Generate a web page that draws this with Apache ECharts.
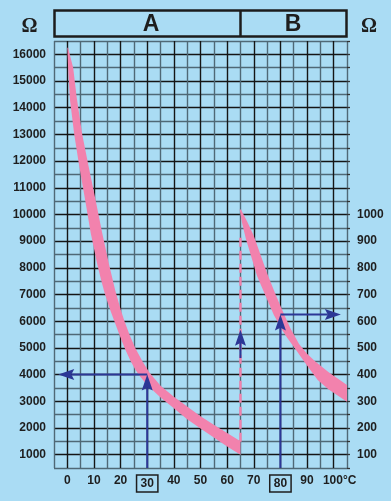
<!DOCTYPE html>
<html><head><meta charset="utf-8">
<script src="https://cdn.jsdelivr.net/npm/echarts@6/dist/echarts.min.js"></script>
<style>html,body{margin:0;padding:0;background:#aadcf4;}#c{width:391px;height:501px;}</style>
</head><body><div id="c"></div><script>
// ---- data ----
const tempTicks = [0,10,20,30,40,50,60,70,80,90,100];
const boxedTemps = [30,80];
const leftTicks = [1000,2000,3000,4000,5000,6000,7000,8000,9000,10000,11000,12000,13000,14000,15000,16000];
const rightTicks = [100,200,300,400,500,600,700,800,900,1000];
const headerLabels = ['A','B'];
const unitLabel = 'Ω';
// curve A band (left scale, Ω)
const aLowerX = [0,0.3,1.0,2.6,4.5,6.6,8.8,11.2,12.6,14.0,15.9,17.8,19.6,21.5,23.7,25.5,27.1,30,35,40,45,50,55,60,65];
const aLowerY = [16250,15500,14300,13000,11800,10600,9300,8150,7580,7060,6480,5960,5480,5000,4520,4190,3960,3610,3140,2740,2330,1980,1640,1310,1000];
const aUpperX = [0.3,0.9,2.2,3.5,5.6,8.0,10.5,13.0,15.6,18.0,20.0,21.5,23.4,25.5,28.3,30.8,35,40,45,50,55,60,65];
const aUpperY = [16250,16000,15500,14400,13000,11800,10600,9350,8150,7150,6450,5990,5480,5000,4480,4080,3580,3170,2800,2440,2120,1810,1500];
// curve B band (right scale, Ω)
const bLowerX = [64.7,65.6,67,69.4,71.2,74,77.5,80.6,82.4,86,89.3,94,98,105];
const bLowerY = [1019,969,910,830,770,705,624,568,540,490,443,380,345,298];
const bUpperX = [65.2,67.6,70,72.5,75,78,81.2,83.7,87,90,93,98,105];
const bUpperY = [1019,972,920,850,780,705,630,575,515,478,450,410,361];
// dashed transition line (left scale)
const dashX = [65,65];
const dashY = [1480,9190];
// arrows [x1,y1,x2,y2]
const arrowsA = [[30,500,30,4000],[30,4000,-3.4,4000]];
const arrowsB = [[80,50,80,625],[80,625,102.7,625],[65,462,65,568]];

const PINK = '#f282ad', NAVY = '#2c3796', TXT = '#1e1e1e', BG = '#aadcf4';
const chart = echarts.init(document.getElementById('c'), null, {renderer:'canvas'});

function bandRender(lx, ly, ux, uy){
  return function(params, api){
    if (params.dataIndex !== 0) return;
    const pts = [];
    for (let i=0;i<lx.length;i++) pts.push(api.coord([lx[i], ly[i]]));
    for (let i=ux.length-1;i>=0;i--) pts.push(api.coord([ux[i], uy[i]]));
    return {type:'polygon', shape:{points:pts}, style:{fill:PINK}};
  };
}
function arrowRender(params, api){
  const p1 = api.coord([api.value(0), api.value(1)]);
  const p2 = api.coord([api.value(2), api.value(3)]);
  const dx=p2[0]-p1[0], dy=p2[1]-p1[1], L=Math.hypot(dx,dy), ux=dx/L, uy=dy/L;
  const hl=16, hw=5.5;
  const base=[p2[0]-ux*hl, p2[1]-uy*hl];
  const notch=[p2[0]-ux*hl*0.82, p2[1]-uy*hl*0.82];
  const l=[base[0]-uy*hw, base[1]+ux*hw], r=[base[0]+uy*hw, base[1]-ux*hw];
  return {type:'group', children:[
    {type:'line', shape:{x1:p1[0],y1:p1[1],x2:notch[0],y2:notch[1]}, style:{stroke:NAVY, lineWidth:2}},
    {type:'polygon', shape:{points:[p2,l,notch,r]}, style:{fill:NAVY}}
  ]};
}
const labelFont = {fontFamily:'Liberation Sans', fontWeight:'bold', fontSize:12, color:TXT};

const option = {
  backgroundColor: BG,
  animation:false,
  grid:{left:54, right:44, top:41, bottom:33},
  xAxis:{type:'value', min:-5, max:105, interval:5,
    axisLine:{show:false}, axisTick:{show:false},
    splitLine:{show:true, lineStyle:{color:['#4f6876','#151515'], width:1.4}},
    axisLabel:Object.assign({}, labelFont, {margin:7,
      formatter:function(v){
        if (tempTicks.indexOf(v)<0) return '';
        if (boxedTemps.indexOf(v)>=0) return '{box|'+v+'}';
        if (v===100) return '{last|'+v+'°C}';
        return ''+v;
      },
      rich:{
        box:{fontFamily:'Liberation Sans', fontWeight:'bold', fontSize:12, color:TXT,
          borderColor:'#1e1e1e', borderWidth:1.5, padding:[3,4,2,4]},
        last:{fontFamily:'Liberation Sans', fontWeight:'bold', fontSize:12, color:TXT, padding:[0,0,0,12]}
      }
    })
  },
  yAxis:[
    {type:'value', position:'left', min:500, max:16500, interval:500,
      axisLine:{show:false}, axisTick:{show:false},
      splitLine:{show:true, lineStyle:{color:['#4f6876','#151515'], width:1.4}},
      axisLabel:Object.assign({}, labelFont, {margin:8,
        formatter:function(v){ return leftTicks.indexOf(v)>=0 ? ''+v : ''; }})
    },
    {type:'value', position:'right', min:50, max:1650, interval:50,
      axisLine:{show:false}, axisTick:{show:true, length:3, lineStyle:{color:'#333', width:1.3}},
      splitLine:{show:false},
      axisLabel:Object.assign({}, labelFont, {margin:10,
        formatter:function(v){ return rightTicks.indexOf(v)>=0 ? ''+v : ''; }})
    }
  ],
  graphic:[
    {type:'rect', shape:{x:54.5, y:10.5, width:292, height:26}, style:{fill:'none', stroke:'#1c1c1c', lineWidth:2.5}},
    {type:'line', shape:{x1:240.5, y1:10.5, x2:240.5, y2:36.5}, style:{stroke:'#1c1c1c', lineWidth:2.5}},
    {type:'text', x:151, y:25, style:{text:headerLabels[0], font:'bold 23px "Liberation Sans"', fill:TXT, align:'center', verticalAlign:'middle'}},
    {type:'text', x:293, y:25, style:{text:headerLabels[1], font:'bold 23px "Liberation Sans"', fill:TXT, align:'center', verticalAlign:'middle'}},
    {type:'text', x:29.5, y:27, style:{text:unitLabel, font:'bold 20px "Liberation Serif"', fill:TXT, align:'center', verticalAlign:'middle'}},
    {type:'text', x:369, y:27, style:{text:unitLabel, font:'bold 20px "Liberation Serif"', fill:TXT, align:'center', verticalAlign:'middle'}}
  ],
  series:[
    {type:'custom', name:'A', xAxisIndex:0, yAxisIndex:0, data:[[0,16250]], renderItem:bandRender(aLowerX,aLowerY,aUpperX,aUpperY), z:3},
    {type:'custom', name:'B', xAxisIndex:0, yAxisIndex:1, data:[[65,1019]], renderItem:bandRender(bLowerX,bLowerY,bUpperX,bUpperY), z:3},
    {type:'line', name:'dash', xAxisIndex:0, yAxisIndex:0, data:dashX.map((x,i)=>[x,dashY[i]]), symbol:'none',
      lineStyle:{color:PINK, width:2.4, type:[9,4]}, z:3},
    {type:'custom', name:'arrowsA', xAxisIndex:0, yAxisIndex:0, data:arrowsA, renderItem:arrowRender, z:4},
    {type:'custom', name:'arrowsB', xAxisIndex:0, yAxisIndex:1, data:arrowsB, renderItem:arrowRender, z:4}
  ]
};
chart.setOption(option);
</script></body></html>
